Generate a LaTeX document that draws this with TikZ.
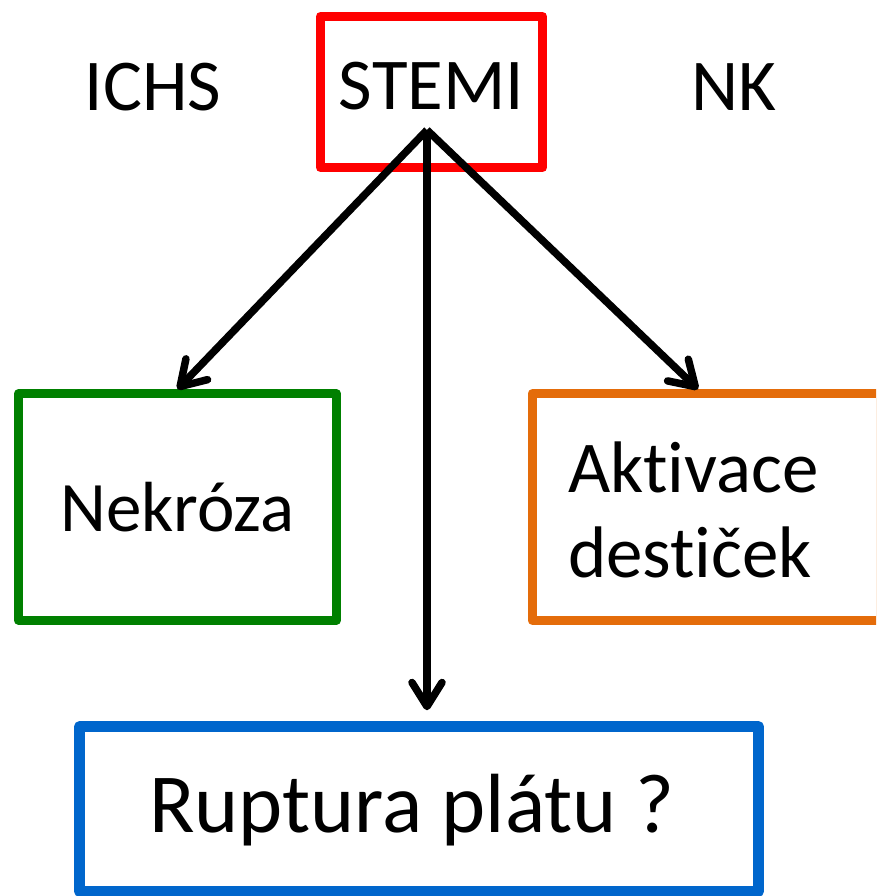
\documentclass[tikz,border=0pt]{standalone}
\usepackage{fontspec}
\setmainfont{Carlito}[Ligatures=NoCommon]
\usetikzlibrary{arrows.meta, calc}
\definecolor{nkgreen}{HTML}{008000}
\definecolor{aktorange}{HTML}{E46C0A}
\definecolor{ruptblue}{HTML}{0066CC}

\begin{document}
\begin{tikzpicture}[x=1pt, y=-1pt, >={Straight Barb[length=24pt, width=30pt, round]},
                box/.style={draw, line width=9pt, line join=round, inner sep=0pt, font=\fontsize{73}{85}\selectfont},
                arr/.style={->, line width=7.5pt}]
                \clip (0,0) rectangle (876,896);
                \node[font=\fontsize{73}{85}\selectfont, anchor=base] (ichs) at (153,111) {ICHS};
                \node[font=\fontsize{73}{85}\selectfont, anchor=base] (nk) at (734,111) {NK};
                \node[box, draw=red, minimum width=222pt, minimum height=151pt, text height=36pt, text depth=0pt] (stemi) at (431.5,92) {STEMI};
                \node[box, draw=nkgreen, minimum width=318pt, minimum height=226.5pt, text height=48pt, text depth=0pt, font=\fontsize{71}{83}\selectfont] (nekroza) at (177.5,507) {Nekróza};
                \node[box, draw=aktorange, minimum width=348pt, minimum height=226.5pt, inner xsep=36pt, text width=276pt, align=left, text height=50pt, text depth=80pt] (aktivace) at (706,507) {Akt\kern0pt ivace\\dest\kern0pt iček};
                \node[box, draw=ruptblue, line width=11pt, minimum width=679pt, minimum height=164.5pt, text height=46pt, text depth=0pt, font=\fontsize{84}{100}\selectfont] (ruptura) at (419,809) {Ruptura plátu ?\hspace*{14pt}};
                \coordinate (fork) at (427,130);
                \draw[arr] (fork) -- (nekroza.north);
                \draw[arr] (fork) -- ([xshift=-8pt]aktivace.north);
                \draw[arr] (fork) -- ($(fork |- ruptura.north)+(0,-11)$);
            \end{tikzpicture}
\end{document}
